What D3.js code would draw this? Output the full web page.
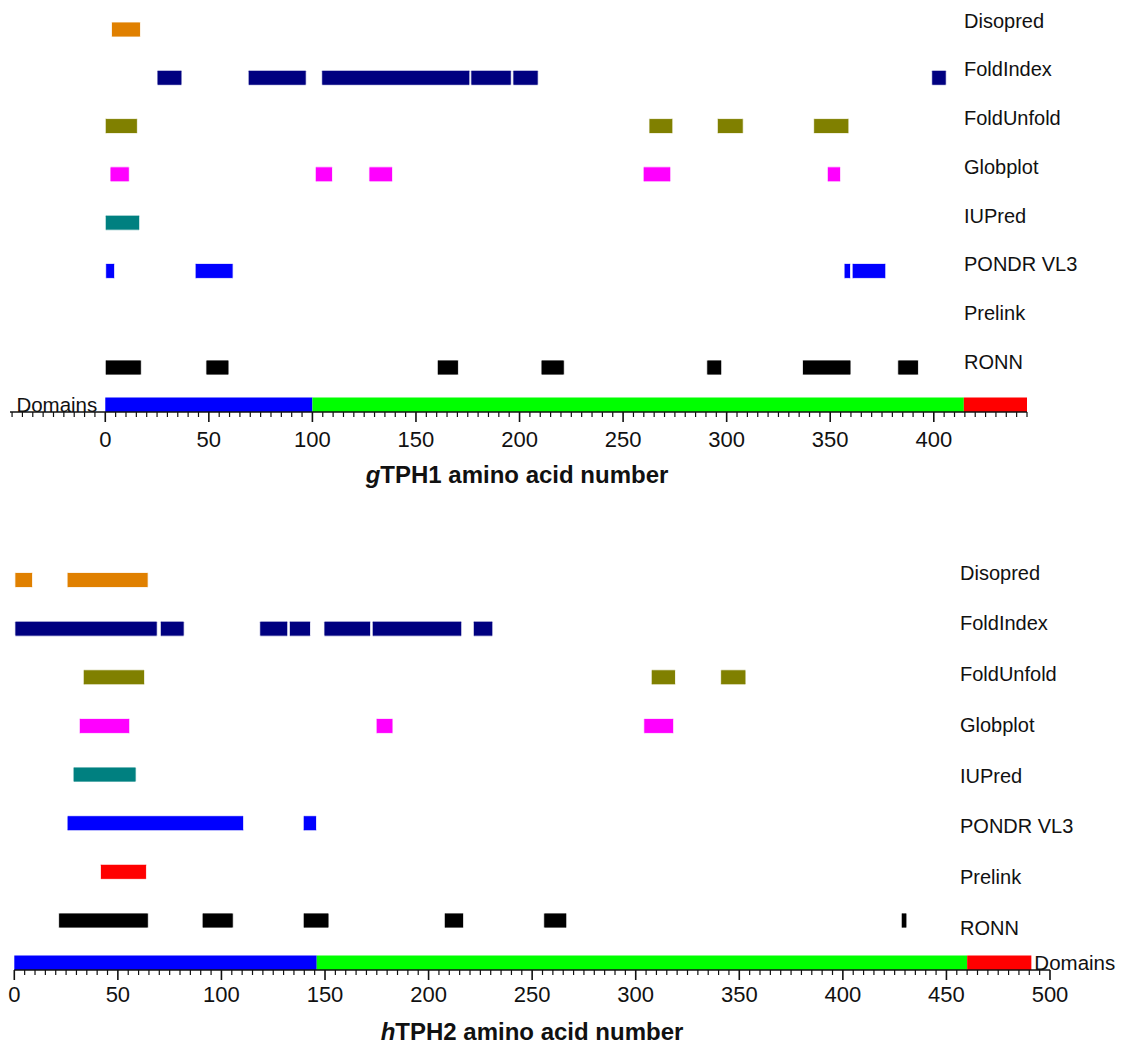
<!DOCTYPE html>
<html><head><meta charset="utf-8">
<script src="https://cdn.jsdelivr.net/npm/d3@7"></script>
<style>
body{margin:0;background:#fff}
text{font-family:"Liberation Sans",Arial,Helvetica,sans-serif}
</style>
</head><body>
<svg id="chart" width="1132" height="1046"></svg>
<script>
// ---------- data ----------
const methods = ["Disopred","FoldIndex","FoldUnfold","Globplot","IUPred","PONDR VL3","Prelink","RONN"];
const methodColors = ["#E08000","#000080","#808000","#FF00FF","#008080","#0000FF","#FF0000","#000000"];
const domainColors = ["#0000FF","#00FF00","#FF0000"];

// gTPH1 predicted disordered segments [start, end]
const gDisopred   = [[3,17]];
const gFoldIndex  = [[25,37],[69,97],[104.5,176],[176.5,196],[196.8,209],[399,406]];
const gFoldUnfold = [[0,15.5],[262.5,274],[295.5,308],[342,359]];
const gGlobplot   = [[2.3,11.6],[101.4,109.7],[127.3,138.7],[259.7,273],[348.6,355]];
const gIUPred     = [[0,16.6]];
const gPondr      = [[0.2,4.5],[43.4,61.7],[356.7,359.8],[360.6,376.8]];
const gPrelink    = [];
const gRonn       = [[0,17.4],[48.6,59.7],[160.3,170.5],[210.4,221.6],[290.4,297.6],[336.6,360],[382.6,392.6]];
const gDomainBounds = [0,100,414.5,445];
const gMajorTicks = [0,50,100,150,200,250,300,350,400];

// hTPH2 predicted disordered segments [start, end]
const hDisopred   = [[0.3,8.8],[25.5,64.6]];
const hFoldIndex  = [[0.3,69],[70.5,82],[118.5,132],[132.8,143],[149.5,172],[172.8,216],[221.6,231]];
const hFoldUnfold = [[33.3,62.9],[307.5,319.2],[341,353.2]];
const hGlobplot   = [[31.4,55.7],[174.7,182.8],[303.9,318.3]];
const hIUPred     = [[28.4,58.8]];
const hPondr      = [[25.5,110.7],[139.5,145.9]];
const hPrelink    = [[41.6,63.8]];
const hRonn       = [[21.4,64.7],[90.7,105.7],[139.5,151.9],[207.6,216.9],[255.6,266.7],[428.2,430.9]];
const hDomainBounds = [0,146,460,491];
const hMajorTicks = [0,50,100,150,200,250,300,350,400,450,500];

// ---------- layout ----------
const svg = d3.select("#chart");

const panels = [
  {
    segs:[gDisopred,gFoldIndex,gFoldUnfold,gGlobplot,gIUPred,gPondr,gPrelink,gRonn],
    bounds:gDomainBounds, ticks:gMajorTicks,
    xDomain:[-46,445], xRange:[10,1027],
    rowRange:[29.5,367.5], labelRange:[20.5,362], labelX:964,
    axisY:412, tickLabelY:447,
    titlePre:"g", titleRest:"TPH1 amino acid number", titleX:517, titleY:483,
    domainsSide:"left"
  },
  {
    segs:[hDisopred,hFoldIndex,hFoldUnfold,hGlobplot,hIUPred,hPondr,hPrelink,hRonn],
    bounds:hDomainBounds, ticks:hMajorTicks,
    xDomain:[0,500], xRange:[14.3,1050],
    rowRange:[580,920.5], labelRange:[572.7,927.7], labelX:960,
    axisY:970, tickLabelY:1002,
    titlePre:"h", titleRest:"TPH2 amino acid number", titleX:532, titleY:1040,
    domainsSide:"right"
  }
];

const barH = 15;

panels.forEach(p => {
  const g = svg.append("g");
  const x = d3.scaleLinear().domain(p.xDomain).range(p.xRange);
  const y = d3.scalePoint().domain(methods).range(p.rowRange);
  const yl = d3.scalePoint().domain(methods).range(p.labelRange);

  // bars
  methods.forEach((m, i) => {
    g.append("g").selectAll("rect").data(p.segs[i]).join("rect")
      .attr("x", d => x(d[0]))
      .attr("width", d => Math.max(1, x(d[1]) - x(d[0])))
      .attr("y", y(m) - barH/2)
      .attr("height", barH)
      .attr("rx", 1)
      .attr("fill", methodColors[i])
      .attr("stroke", "#fff")
      .attr("stroke-width", 0.8);
  });

  // method labels
  g.append("g").selectAll("text").data(methods).join("text")
    .attr("x", p.labelX)
    .attr("y", d => yl(d))
    .attr("dy", "0.35em")
    .attr("font-size", 20)
    .attr("fill", "#111")
    .text(d => d);

  // domain bar
  const domSegs = d3.pairs(p.bounds);
  g.append("g").selectAll("rect").data(domSegs).join("rect")
    .attr("x", d => x(d[0]))
    .attr("width", d => x(d[1]) - x(d[0]))
    .attr("y", p.axisY - 14.5)
    .attr("height", 14.5)
    .attr("fill", (d, i) => domainColors[i]);

  // "Domains" label
  const dl = g.append("text")
    .attr("y", p.axisY - 7)
    .attr("dy", "0.35em")
    .attr("font-size", 20.5)
    .attr("fill", "#111")
    .text("Domains");
  if (p.domainsSide === "left") {
    dl.attr("x", x(p.bounds[0]) - 8).attr("text-anchor", "end");
  } else {
    dl.attr("x", x(p.bounds[p.bounds.length - 1]) + 3).attr("text-anchor", "start");
  }

  // axis: minor ticks
  const minor = d3.range(Math.ceil(p.xDomain[0] / 5) * 5, p.xDomain[1] + 0.01, 5)
    .filter(v => !p.ticks.includes(v));
  const ax = g.append("g").attr("transform", `translate(0,${p.axisY})`);
  ax.append("line")
    .attr("x1", p.xRange[0]).attr("x2", p.xRange[1])
    .attr("stroke", "#111").attr("stroke-width", 1.6);
  ax.append("g").selectAll("line").data(minor).join("line")
    .attr("x1", d => x(d)).attr("x2", d => x(d))
    .attr("y1", 0).attr("y2", 5)
    .attr("stroke", "#111").attr("stroke-width", 1.2);
  ax.append("g").selectAll("line").data(p.ticks).join("line")
    .attr("x1", d => x(d)).attr("x2", d => x(d))
    .attr("y1", 0).attr("y2", 10)
    .attr("stroke", "#111").attr("stroke-width", 1.6);
  g.append("g").selectAll("text").data(p.ticks).join("text")
    .attr("x", d => x(d))
    .attr("y", p.tickLabelY)
    .attr("text-anchor", "middle")
    .attr("font-size", 22)
    .attr("fill", "#111")
    .text(d => d);

  // title
  const t = g.append("text")
    .attr("x", p.titleX).attr("y", p.titleY)
    .attr("text-anchor", "middle")
    .attr("font-size", 24)
    .attr("font-weight", "bold")
    .attr("fill", "#111");
  t.append("tspan").attr("font-style", "italic").text(p.titlePre);
  t.append("tspan").text(p.titleRest);
});
</script>
</body></html>
